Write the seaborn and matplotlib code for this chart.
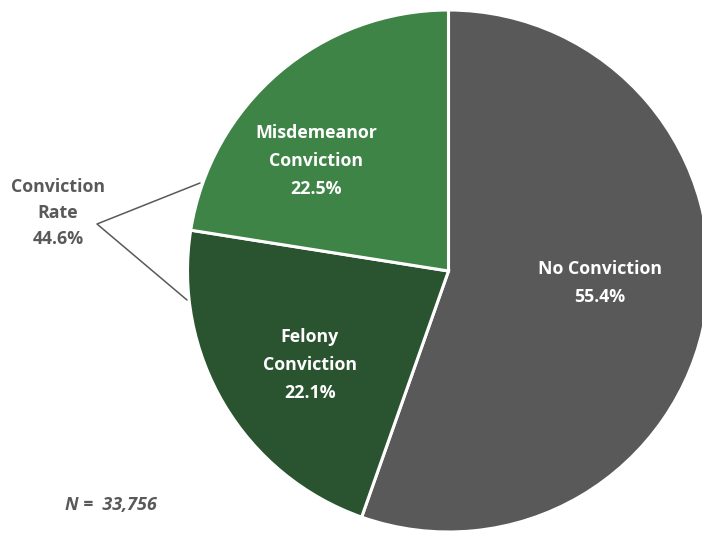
import matplotlib.pyplot as plt
import seaborn as sns

sns.set_theme(style="white")
plt.rcParams['font.family'] = ['Open Sans', 'DejaVu Sans']

# data
categories = ['No Conviction', 'Felony\nConviction', 'Misdemeanor\nConviction']
shares = [55.4, 22.1, 22.5]
colors = ['#595959', '#2a5430', '#3f8447']
conviction_rate = 44.6
n_total = '33,756'

# label anchor points in pixel coords (y measured from top)
label_pos = [(600, 283), (310, 365), (316, 161)]

W, H = 702, 533
fig = plt.figure(figsize=(W / 100, H / 100), dpi=100)
ax = fig.add_axes([0, 0, 1, 1])

cx, cy, r = 448.5, 271, 261
# y axis is inverted, so counterclock=True draws clockwise on screen
wedges, _ = ax.pie(shares, colors=colors, startangle=-90, counterclock=True,
                   center=(cx, cy), radius=r, frame=True,
                   wedgeprops=dict(edgecolor='white', linewidth=2.2))
ax.set_xlim(0, W)
ax.set_ylim(H, 0)
ax.axis('off')

for name, val, (x, y) in zip(categories, shares, label_pos):
    ax.text(x, y, f'{name}\n{val:.1f}%', ha='center', va='center', color='white',
            fontsize=12.8, fontweight='bold', linespacing=1.7)

# conviction rate bracket
ax.text(58, 213, f'Conviction\nRate\n{conviction_rate:.1f}%', ha='center', va='center',
        color='#595959', fontsize=12.8, fontweight='bold', linespacing=1.6)
ax.plot([200, 97, 187], [183, 224, 300], color='#595959', lw=1.1)

ax.text(65, 505, f'N =  {n_total}', ha='left', va='center', color='#595959',
        fontsize=13, fontweight='bold', fontstyle='italic')

plt.savefig('out.png', dpi=100)
